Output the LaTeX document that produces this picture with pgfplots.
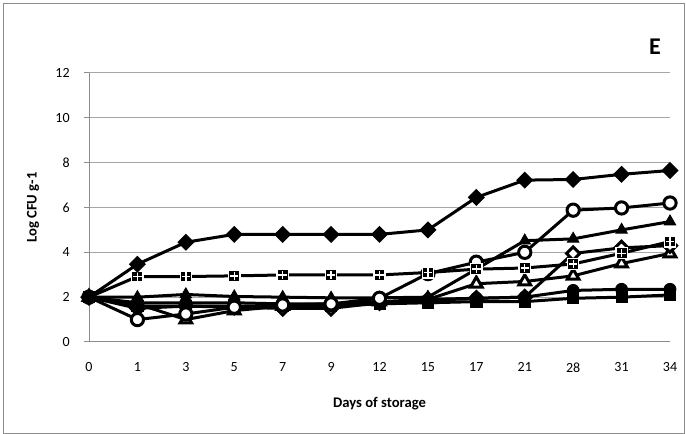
\documentclass[border=0pt]{standalone}
\usepackage{pgfplots}
\pgfplotsset{compat=1.18}
\usepackage{fontspec}
\setmainfont{Carlito}
\pgfdeclareplotmark{crosssq}{%
  \pgfpathrectangle{\pgfpoint{-\pgfplotmarksize}{-\pgfplotmarksize}}{\pgfpoint{2\pgfplotmarksize}{2\pgfplotmarksize}}%
  \pgfusepathqfillstroke
  \pgfsetstrokecolor{white}\pgfsetlinewidth{1pt}%
  \pgfpathmoveto{\pgfpoint{-0.75\pgfplotmarksize}{0pt}}\pgfpathlineto{\pgfpoint{0.75\pgfplotmarksize}{0pt}}%
  \pgfpathmoveto{\pgfpoint{0pt}{-0.75\pgfplotmarksize}}\pgfpathlineto{\pgfpoint{0pt}{0.75\pgfplotmarksize}}%
  \pgfusepathqstroke
}
\begin{document}
\begin{tikzpicture}
\useasboundingbox (0,0) rectangle (514.5pt,325.5pt);
\draw[color=black!45, line width=0.75pt] (2.4pt,0.6pt) rectangle (513.3pt,322.5pt);
\begin{axis}[
  at={(66.75pt,69pt)}, anchor=south west,
  scale only axis, width=435.75pt, height=201.75pt,
  xmin=0, xmax=12, ymin=0, ymax=12,
  xtick={0,...,12}, xticklabels={0,1,3,5,7,9,12,15,17,21,28,31,34},
  ytick={0,2,...,12}, yticklabels={0,2,4,6,8,10,12},
  axis x line*=bottom, axis y line*=left,
  axis line style={black!45, line width=0.75pt},
  ymajorgrids, major grid style={black!35, line width=0.75pt},
  xtick style={draw=none},
  ytick style={black!45, line width=0.75pt},
  tick align=outside, major tick length=4pt,
  ticklabel style={font=\fontsize{10.5}{12}\selectfont},
  yticklabel style={xshift=-7pt},
  xticklabel style={yshift=-8pt},
  every axis x label/.style={at={(axis description cs:0.5,-0.2305)}, anchor=center},
  every axis y label/.style={at={(axis description cs:-0.0964,0.5)}, rotate=90, anchor=center},
  xlabel={\bfseries Days of storage},
  ylabel={\bfseries Log CFU g-1},
  label style={font=\fontsize{11}{13}\selectfont\bfseries},
  clip=false,
  every axis plot/.append style={line width=2.25pt, black, mark options={solid, line width=0.6pt}},
]
% open triangle
\addplot[mark=triangle*, mark size=5pt, mark options={fill=white}] coordinates {
(0,2) (1,1.7) (2,1.0) (3,1.4) (4,1.6) (5,1.7) (6,1.8) (7,1.9) (8,2.6) (9,2.7) (10,2.95) (11,3.5) (12,3.95)};
% open diamond
\addplot[mark=square*, mark size=3.5pt, mark options={fill=white, rotate=45}] coordinates {
(0,2) (1,1.5) (2,1.6) (3,1.55) (4,1.5) (5,1.5) (6,1.75) (7,1.9) (8,1.95) (9,2.0) (10,3.95) (11,4.2) (12,4.3)};
% filled circle
\addplot[mark=*, mark size=4.5pt] coordinates {
(0,2) (1,1.75) (2,1.75) (3,1.75) (4,1.7) (5,1.7) (6,1.75) (7,1.85) (8,1.95) (9,2.0) (10,2.3) (11,2.35) (12,2.35)};
% filled square
\addplot[mark=square*, mark size=4.2pt] coordinates {
(0,2) (1,1.6) (2,1.6) (3,1.6) (4,1.6) (5,1.6) (6,1.7) (7,1.75) (8,1.8) (9,1.8) (10,1.95) (11,2.0) (12,2.1)};
% filled triangle
\addplot[mark=triangle*, mark size=5pt] coordinates {
(0,2) (1,2.0) (2,2.12) (3,2.03) (4,2.0) (5,1.97) (6,1.97) (7,2.0) (8,3.25) (9,4.52) (10,4.6) (11,5.0) (12,5.37)};
% open circle
\addplot[mark=*, mark size=4.6pt, mark options={fill=white}] coordinates {
(0,2) (1,1.0) (2,1.25) (3,1.55) (4,1.65) (5,1.7) (6,1.95) (7,3.05) (8,3.56) (9,4.0) (10,5.88) (11,5.98) (12,6.2)};
% cross square
\addplot[mark=crosssq, mark size=4.2pt] coordinates {
(0,2) (1,2.92) (2,2.92) (3,2.95) (4,2.99) (5,2.99) (6,2.99) (7,3.1) (8,3.25) (9,3.3) (10,3.48) (11,3.96) (12,4.48)};
% filled diamond
\addplot[mark=square*, mark size=3.4pt, mark options={rotate=45}] coordinates {
(0,2) (1,3.47) (2,4.45) (3,4.8) (4,4.8) (5,4.8) (6,4.8) (7,5.0) (8,6.45) (9,7.22) (10,7.25) (11,7.48) (12,7.65)};
\node[font=\fontsize{18}{20}\selectfont\bfseries] at (axis description cs:0.974,1.097) {E};
\end{axis}
\end{tikzpicture}
\end{document}
